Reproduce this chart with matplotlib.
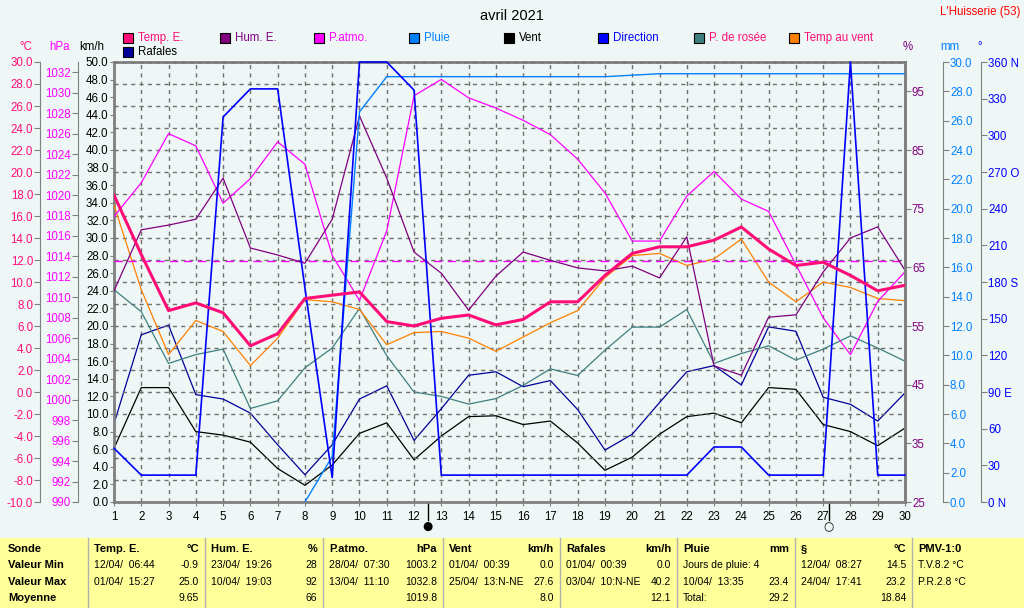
import matplotlib
matplotlib.use("Agg")
import matplotlib.pyplot as plt
import numpy as np

plt.rcParams['font.family'] = ['Liberation Sans', 'DejaVu Sans']

days = list(range(1, 31))
temp_e = [17.9, 12.5, 7.4, 8.1, 7.2, 4.2, 5.3, 8.5, 8.8, 9.1, 6.4, 6.0, 6.7, 7.0, 6.1,
          6.6, 8.2, 8.2, 10.6, 12.6, 13.2, 13.2, 13.8, 15.0, 13.0, 11.5, 11.8, 10.6, 9.2, 9.7]
temp_vent = [17.0, 9.3, 3.4, 6.5, 5.5, 2.4, 4.9, 8.4, 8.2, 7.5, 4.3, 5.4, 5.5, 4.9, 3.7,
             5.0, 6.3, 7.4, 10.4, 12.4, 12.6, 11.5, 12.1, 13.9, 10.0, 8.2, 10.0, 9.5, 8.5, 8.3]
rosee = [9.3, 7.3, 2.6, 3.4, 3.9, -1.5, -0.8, 2.2, 4.0, 7.6, 3.3, 0.0, -0.4, -1.1, -0.6,
         0.6, 2.1, 1.5, 3.8, 5.9, 5.9, 7.5, 2.6, 3.5, 4.2, 2.9, 3.9, 5.1, 4.0, 2.8]
vent = [6.1, 13.0, 13.0, 8.0, 7.6, 6.8, 3.8, 1.9, 4.2, 7.8, 9.0, 4.8, 7.5, 9.7, 9.8,
        8.8, 9.2, 6.7, 3.6, 5.1, 7.7, 9.7, 10.1, 9.0, 13.0, 12.8, 8.8, 8.0, 6.4, 8.4]
rafales = [8.9, 19.0, 20.1, 12.2, 11.7, 10.1, 6.5, 3.1, 6.5, 11.7, 13.2, 7.0, 10.6, 14.4, 14.8,
           13.1, 13.8, 10.5, 5.9, 7.7, 11.3, 14.8, 15.5, 13.3, 19.9, 19.4, 11.9, 11.1, 9.2, 12.4]
direction = [44, 22, 22, 22, 315, 338, 338, 175, 20, 360, 360, 337, 22, 22, 22,
             22, 22, 22, 22, 22, 22, 22, 45, 45, 22, 22, 22, 360, 22, 22]
pluie_days = list(range(8, 31))
pluie = [0.0, 3.1, 26.6, 29.0, 29.0, 29.0, 29.0, 29.0, 29.0, 29.0, 29.0, 29.0,
         29.1, 29.2, 29.2, 29.2, 29.2, 29.2, 29.2, 29.2, 29.2, 29.2, 29.2]
humidite = [61.0, 71.4, 72.2, 73.2, 80.2, 68.3, 67.1, 65.7, 73.2, 90.8, 80.2, 67.6, 64.0, 57.7, 63.5,
            67.6, 66.2, 64.9, 64.4, 65.2, 63.2, 70.2, 48.2, 46.6, 56.5, 56.9, 64.2, 70.0, 71.9, 64.5]
hum_moy = 66
pression = [1017.9, 1021.2, 1026.0, 1024.8, 1019.2, 1021.6, 1025.2, 1023.0, 1014.1, 1009.7,
            1016.5, 1029.7, 1031.3, 1029.5, 1028.5, 1027.3, 1025.9, 1023.5, 1020.2, 1015.5,
            1015.5, 1019.9, 1022.3, 1019.6, 1018.4, 1013.2, 1008.0, 1004.4, 1009.6, 1012.5]

C_TEMP = '#ff0d77'
C_HUM = '#800080'
C_PRES = '#ff00ff'
C_PLUIE = '#0080ff'
C_DIR = '#0000ff'
C_ROSEE = '#3f7f7f'
C_TV = '#ff8000'
C_RAF = '#000099'
BG = '#eef6f6'
PX = 0.72  # points per pixel at dpi 100
TS = 8.3   # tick label size

fig = plt.figure(figsize=(10.24, 6.08), dpi=100, facecolor=BG)
ax = fig.add_axes([114 / 1024, 106 / 608, 791 / 1024, 440 / 608])
ax.set_facecolor(BG)

def make_twin(side, offset, lo, hi, color):
    t = ax.twinx()
    t.set_ylim(lo, hi)
    if side == 'left':
        t.yaxis.tick_left()
        t.spines['left'].set_visible(True)
        t.spines['left'].set_position(('outward', offset * PX))
        t.spines['right'].set_visible(False)
    else:
        t.spines['right'].set_position(('outward', offset * PX))
        t.spines['left'].set_visible(False)
    for s in ('top', 'bottom'):
        t.spines[s].set_visible(False)
    t.spines[side].set_color('#808080')
    t.tick_params(axis='y', colors='#808080', labelcolor=color, labelsize=TS, length=4, pad=1)
    return t

# km/h main axis
ax.set_xlim(1, 30)
ax.set_ylim(0, 50)
ax.set_xticks(days)
ax.set_yticks(np.arange(0, 51, 2))
ax.set_yticklabels(['%.1f' % v for v in np.arange(0, 51, 2)])
ax.tick_params(axis='y', colors='#808080', labelcolor='black', labelsize=TS, length=3, pad=1)
ax.tick_params(axis='x', colors='#808080', labelcolor='black', labelsize=TS, length=3)
for s in ax.spines.values():
    s.set_color('#808080')
    s.set_linewidth(2)

ax_t = make_twin('left', 74, -10, 30, C_TEMP)
ax_t.set_yticks(np.arange(-10, 31, 2))
ax_t.set_yticklabels(['%.1f' % v for v in np.arange(-10, 31, 2)])
ax_t.grid(True, color='#707070', linestyle=(0, (3, 3)), linewidth=1)
ax.grid(True, axis='x', color='#707070', linestyle=(0, (3, 3)), linewidth=1)

ax_p = make_twin('left', 36, 990, 1033, C_PRES)
ax_p.set_yticks(np.arange(990, 1033, 2))

ax_h = make_twin('right', 0, 25, 100, C_HUM)
ax_h.set_yticks(np.arange(25, 100, 10))
ax_h.spines['right'].set_linewidth(2)

ax_m = make_twin('right', 38, 0, 30, C_PLUIE)
ax_m.set_yticks(np.arange(0, 31, 2))
ax_m.set_yticklabels(['%.1f' % v for v in np.arange(0, 31, 2)])

ax_d = make_twin('right', 76, 0, 360, C_DIR)
dir_ticks = np.arange(0, 361, 30)
names = {0: ' N', 90: ' E', 180: ' S', 270: ' O', 360: ' N'}
ax_d.set_yticks(dir_ticks)
ax_d.set_yticklabels(['%d%s' % (v, names.get(v, '')) for v in dir_ticks])

for a in (ax_t, ax_p, ax_h, ax_m, ax_d):
    a.set_xlim(1, 30)

# series
ax_h.axhline(hum_moy, color=C_PRES, linestyle=(0, (6, 4)), linewidth=1)
ax.plot(days, vent, color='black', lw=0.9)
ax.plot(days, rafales, color=C_RAF, lw=0.9)
ax_t.plot(days, rosee, color=C_ROSEE, lw=0.9)
ax_t.plot(days, temp_vent, color=C_TV, lw=0.9)
ax_h.plot(days, humidite, color=C_HUM, lw=0.9)
ax_p.plot(days, pression, color=C_PRES, lw=0.9)
ax_m.plot(pluie_days, pluie, color=C_PLUIE, lw=1)
ax_d.plot(days, direction, color=C_DIR, lw=1.2, clip_on=False)
ax_d.plot(days, temp_e, color=C_TEMP, lw=2.2, transform=ax_t.transData)

# moon phases
for d, sym in ((12.5, '\u25cf'), (27.2, '\u25cb')):
    ax.plot([d, d], [0, -2], color='black', lw=1, clip_on=False)
    ax.text(d, -2.8, sym, ha='center', va='center', fontsize=8.5, family='DejaVu Sans')

# titles and units
fig.text(0.5, 1 - 16 / 608, 'avril 2021', ha='center', va='center', fontsize=10.5)
fig.text(1020 / 1024, 1 - 12 / 608, "L'Huisserie (53)", ha='right', va='center', fontsize=8.3, color='#ff0000')
units = [(26, '°C', C_TEMP), (60, 'hPa', C_PRES), (92, 'km/h', 'black'),
         (908, '%', C_HUM), (950, 'mm', C_PLUIE), (980, '°', C_DIR)]
for x, t, c in units:
    fig.text(x / 1024, 1 - 47 / 608, t, ha='center', va='center', fontsize=8.3, color=c)

# legend
legend = [(123, 38, 'Temp. E.', C_TEMP, C_TEMP), (220, 38, 'Hum. E.', C_HUM, C_HUM),
          (314, 38, 'P.atmo.', C_PRES, C_PRES), (409, 38, 'Pluie', C_PLUIE, C_PLUIE),
          (504, 38, 'Vent', 'black', 'black'), (598, 38, 'Direction', C_DIR, C_DIR),
          (694, 38, 'P. de rosée', C_ROSEE, C_TEMP), (789, 38, 'Temp au vent', C_TV, C_TEMP),
          (123, 52, 'Rafales', C_RAF, 'black')]
for x, y, t, cbox, ctext in legend:
    fig.patches.append(plt.Rectangle((x / 1024, 1 - (y + 5) / 608), 10 / 1024, 10 / 608,
                                     transform=fig.transFigure, facecolor=cbox,
                                     edgecolor='black', lw=0.8))
    fig.text((x + 15) / 1024, 1 - y / 608, t, ha='left', va='center', fontsize=8.3, color=ctext)

# bottom table
fig.patches.append(plt.Rectangle((0, 0), 1, 70 / 608, transform=fig.transFigure,
                                 facecolor='#ffff99', edgecolor='none'))
seps = [88, 205, 323, 443, 560, 677, 795, 912]
for x in seps:
    fig.add_artist(plt.Line2D([x / 1024, x / 1024], [0, 70 / 608], color='#b0b0b0', lw=1))
rows_y = [549, 565, 582, 598]
row_labels = ['Sonde', 'Valeur Min', 'Valeur Max', 'Moyenne']
for y, t in zip(rows_y, row_labels):
    fig.text(8 / 1024, 1 - y / 608, t, fontsize=8, weight='bold', va='center')
cols = [
    ('Temp. E.', '°C', ['12/04/  06:44', '01/04/  15:27', ''], ['-0.9', '25.0', '9.65']),
    ('Hum. E.', '%', ['23/04/  19:26', '10/04/  19:03', ''], ['28', '92', '66']),
    ('P.atmo.', 'hPa', ['28/04/  07:30', '13/04/  11:10', ''], ['1003.2', '1032.8', '1019.8']),
    ('Vent', 'km/h', ['01/04/  00:39', '25/04/  13:N-NE', ''], ['0.0', '27.6', '8.0']),
    ('Rafales', 'km/h', ['01/04/  00:39', '03/04/  10:N-NE', ''], ['0.0', '40.2', '12.1']),
    ('Pluie', 'mm', ['Jours de pluie: 4', '10/04/  13:35', 'Total:'], ['', '23.4', '29.2']),
    ('§', '°C', ['12/04/  08:27', '24/04/  17:41', ''], ['14.5', '23.2', '18.84']),
]
for i, (name, unit, left, right) in enumerate(cols):
    x0 = seps[i] + 6
    x1 = seps[i + 1] - 6
    fig.text(x0 / 1024, 1 - rows_y[0] / 608, name, fontsize=8, weight='bold', va='center')
    fig.text(x1 / 1024, 1 - rows_y[0] / 608, unit, fontsize=8, weight='bold', va='center', ha='right')
    for j in range(3):
        y = 1 - rows_y[j + 1] / 608
        fig.text(x0 / 1024, y, left[j], fontsize=7.5, va='center')
        fig.text(x1 / 1024, y, right[j], fontsize=7.5, va='center', ha='right')
fig.text(918 / 1024, 1 - rows_y[0] / 608, 'PMV-1:0', fontsize=8, weight='bold', va='center')
fig.text(918 / 1024, 1 - rows_y[1] / 608, 'T.V.8.2 °C', fontsize=7.5, va='center')
fig.text(918 / 1024, 1 - rows_y[2] / 608, 'P.R.2.8 °C', fontsize=7.5, va='center')

fig.savefig('out.png', dpi=100, facecolor=BG)
